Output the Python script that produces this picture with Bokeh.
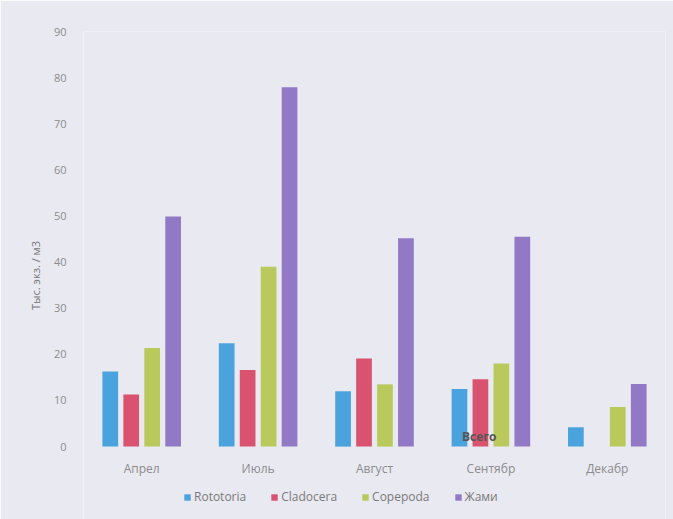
from bokeh.plotting import figure
from bokeh.models import ColumnDataSource, Legend, LegendItem, FactorRange
from bokeh.transform import dodge
from bokeh.embed import file_html
from bokeh.resources import INLINE
from bokeh.core.properties import value

months = ["Апрел", "Июль", "Август", "Сентябр", "Декабр"]
rototoria = [16.3, 22.4, 12.0, 12.5, 4.2]
cladocera = [11.3, 16.6, 19.1, 14.6, 0.0]
copepoda = [21.4, 39.0, 13.5, 18.0, 8.6]
jami = [49.9, 77.9, 45.2, 45.5, 13.6]
series_names = ["Rototoria", "Cladocera", "Copepoda", "Жами"]
colors = ["#4ba3de", "#d9526f", "#b9c95c", "#9279c6"]
y_ticks = [0, 10, 20, 30, 40, 50, 60, 70, 80, 90]
note_month = ["Сентябр"]
note_y = [0.4]
note_text = ["Всего"]

bg = "#e9e9f1"
src = ColumnDataSource(dict(month=months, r=rototoria, c=cladocera, co=copepoda, j=jami,
                            base=[0] * len(months)))

p = figure(x_range=FactorRange(*months), y_range=(-15.8, 90),
           width=673, height=519, x_axis_location=None,
           output_backend="svg", toolbar_location=None,
           min_border_left=83, min_border_right=8, min_border_top=31, min_border_bottom=0)
p.background_fill_color = bg
p.border_fill_color = bg
p.outline_line_color = None
p.xgrid.grid_line_color = None
p.ygrid.grid_line_color = None

offsets = [-0.27, -0.09, 0.09, 0.27]
fields = ["r", "c", "co", "j"]
renderers = []
for f, off, col in zip(fields, offsets, colors):
    r = p.vbar(x=dodge("month", off, range=p.x_range), top=f, width=0.135, bottom=0,
               source=src, fill_color=col, line_color=None)
    renderers.append(r)

tick_color = "#8c8c8c"
# category labels under the baseline
p.text(x="month", y="base", text="month", source=src, y_offset=22,
       text_font=value("Open Sans"), text_font_size="12px",
       text_color=tick_color, text_align="center", text_baseline="middle")

p.text(x=dodge("month", -0.1, range=p.x_range), y="y", text="t",
       source=ColumnDataSource(dict(month=note_month, y=note_y, t=note_text)),
       text_font=value("Open Sans"), text_font_size="12px", text_font_style="bold",
       text_color="#555555", text_align="center", text_baseline="bottom")

p.yaxis.ticker = y_ticks
p.yaxis.axis_line_color = None
p.yaxis.major_tick_line_color = None
p.yaxis.minor_tick_line_color = None
p.yaxis.major_label_text_color = tick_color
p.yaxis.major_label_text_font = "Open Sans"
p.yaxis.major_label_text_font_size = "11px"
p.yaxis.major_label_standoff = 11
p.yaxis.axis_label = "Тыс. экз. / м3"
p.yaxis.axis_label_text_font = "Open Sans"
p.yaxis.axis_label_text_font_style = "normal"
p.yaxis.axis_label_text_font_size = "11px"
p.yaxis.axis_label_text_color = "#777777"
p.yaxis.axis_label_standoff = 8

legend = Legend(items=[LegendItem(label=n, renderers=[r]) for n, r in zip(series_names, renderers)],
                orientation="horizontal", location=(100, 14))
legend.background_fill_alpha = 0
legend.border_line_color = None
legend.label_text_font = "Open Sans"
legend.label_text_font_size = "12px"
legend.label_text_color = "#7a7a7a"
legend.glyph_width = 8
legend.glyph_height = 8
legend.label_height = 12
legend.label_standoff = 3
legend.spacing = 24
legend.margin = 0
legend.padding = 0
p.add_layout(legend)

open("out.html", "w").write(file_html(p, INLINE))
